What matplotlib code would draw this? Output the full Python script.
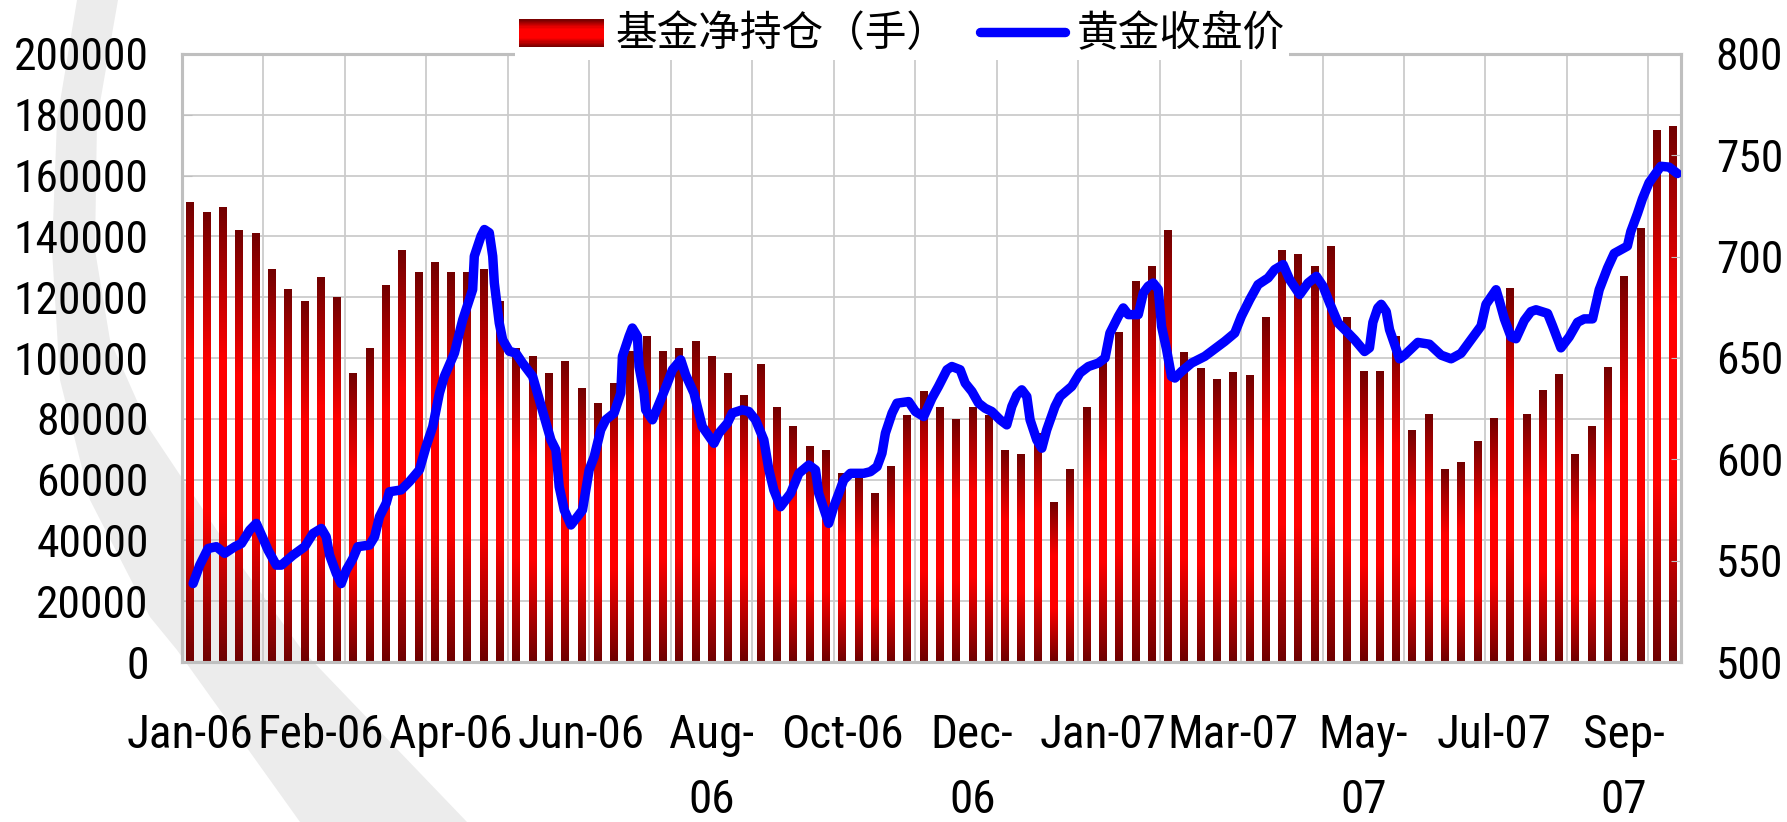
import os
import numpy as np
import matplotlib
matplotlib.use('Agg')
import matplotlib.pyplot as plt
import matplotlib.font_manager as fm
from matplotlib.font_manager import FontProperties
from matplotlib.colors import LinearSegmentedColormap
from matplotlib.patches import Polygon, Rectangle, Patch

# weekly fund net long position (contracts), Jan-06 .. Sep-07
fund_net = [151000, 148000, 149500, 142000, 141000, 129000, 122500, 118500, 126500, 120000,
            95000, 103000, 124000, 135500, 128000, 131500, 128000, 128000, 129000, 118500,
            103000, 100500, 95000, 99000, 90000, 85000, 91500, 102000, 107000, 102000,
            103000, 105500, 100500, 95000, 87500, 97800, 83600, 77400, 70800, 69500,
            62000, 62000, 55300, 64200, 81000, 88900, 83600, 79700, 83600, 81000,
            69500, 68100, 75000, 52600, 63200, 83600, 98400, 108400, 125200, 130100,
            142000, 101800, 96500, 92900, 95200, 94200, 113300, 135400, 134100, 130100,
            136700, 113300, 95500, 95500, 107000, 76200, 81300, 63400, 65700, 72400,
            80000, 122900, 81300, 89200, 94500, 68300, 77600, 96800, 126900, 142500,
            174900, 176200]
weeks = list(range(len(fund_net)))

tick_pos = [0, 8, 16, 24, 32, 40, 48, 56, 64, 72, 80, 88]
tick_labels = ['Jan-06', 'Feb-06', 'Apr-06', 'Jun-06', 'Aug-\n06', 'Oct-06',
               'Dec-\n06', 'Jan-07', 'Mar-07', 'May-\n07', 'Jul-07', 'Sep-\n07']
left_ticks = list(range(0, 200001, 20000))
right_ticks = list(range(500, 801, 50))

# gold close price, position in weeks
gold_pos = [0.18, 0.59, 1.10, 1.61, 2.12, 2.74, 3.15, 3.66, 4.06, 4.47, 4.78, 5.29, 5.60, 6.31,
            7.03, 7.54, 8.05, 8.35, 8.56, 8.97, 9.27, 9.58, 9.99, 10.29, 11.01, 11.32, 11.62,
            12.03, 12.23, 12.95, 13.46, 14.07, 14.48, 14.89, 15.30, 15.60, 16.22, 16.42, 16.73,
            17.34, 17.44, 17.85, 18.06, 18.36, 18.57, 18.67, 18.97, 19.18, 19.59, 19.99, 20.40,
            21.02, 21.43, 21.73, 22.14, 22.45, 22.65, 22.96, 23.37, 23.77, 24.08, 24.49, 24.80,
            25.20, 25.51, 26.02, 26.43, 26.53, 26.94, 27.14, 27.45, 27.55, 27.86, 27.96, 28.37,
            28.88, 29.29, 29.60, 30.11, 30.41, 30.92, 31.43, 32.15, 32.45, 32.97, 33.27, 33.88,
            34.29, 34.70, 35.21, 35.52, 35.82, 36.23, 36.85, 37.36, 37.97, 38.38, 38.58, 38.99,
            39.19, 39.50, 39.81, 40.11, 40.52, 41.34, 41.75, 42.16, 42.46, 42.67, 43.08, 43.38,
            44.10, 44.51, 45.02, 45.53, 45.93, 46.45, 46.75, 47.26, 47.57, 47.98, 48.39, 48.79,
            49.20, 49.71, 50.12, 50.43, 50.74, 51.04, 51.35, 51.55, 51.96, 52.27, 52.57, 53.08,
            53.39, 54.11, 54.61, 55.13, 55.74, 56.15, 56.45, 56.97, 57.27, 57.58, 58.19, 58.50,
            58.80, 59.11, 59.42, 59.62, 59.93, 60.23, 60.44, 60.85, 61.46, 62.27, 63.09, 63.50,
            64.11, 64.52, 65.03, 65.54, 66.16, 66.56, 67.08, 67.48, 68.10, 68.61, 69.12, 69.53,
            69.93, 70.45, 70.96, 71.47, 72.08, 72.38, 72.59, 72.89, 73.10, 73.41, 73.61, 73.92,
            74.22, 74.53, 75.35, 76.06, 76.78, 77.39, 78.00, 78.41, 79.23, 79.53, 80.15, 80.35,
            80.66, 81.07, 81.37, 81.88, 82.29, 82.60, 83.31, 83.62, 84.13, 84.64, 85.15, 85.56,
            86.07, 86.48, 86.99, 87.40, 88.21, 88.42, 88.83, 89.13, 89.54, 90.26, 90.77, 91.28]
gold_price = [538.7, 547.8, 556.0, 556.9, 553.6, 556.9, 558.5, 565.1, 568.4, 561.0, 555.2, 547.8,
              547.8, 552.7, 556.9, 563.4, 565.9, 561.8, 552.7, 543.7, 538.7, 545.3, 551.1, 556.9,
              557.7, 561.8, 571.7, 578.3, 584.0, 584.9, 589.0, 594.8, 606.3, 616.2, 632.7, 640.9,
              652.4, 659.0, 668.9, 683.8, 700.2, 710.1, 713.4, 711.8, 700.2, 687.0, 667.3, 659.0,
              653.3, 652.4, 647.5, 640.9, 629.4, 621.1, 609.6, 604.6, 586.5, 575.0, 567.6, 571.7,
              575.0, 594.8, 601.4, 614.5, 619.5, 622.8, 632.7, 650.8, 660.7, 664.8, 660.7, 645.8,
              632.7, 624.4, 619.5, 629.4, 637.6, 644.2, 649.1, 641.7, 632.7, 616.2, 607.9, 612.9,
              617.8, 622.8, 624.4, 623.6, 619.5, 609.6, 594.8, 584.9, 576.6, 583.2, 593.1, 597.2,
              594.8, 583.2, 573.3, 568.4, 576.6, 583.2, 589.8, 593.1, 593.1, 593.9, 596.4, 603.0,
              612.9, 622.8, 627.7, 628.5, 623.6, 621.1, 630.2, 636.0, 644.2, 645.8, 644.2, 637.6,
              633.5, 627.7, 625.2, 623.6, 619.5, 617.0, 626.1, 631.8, 634.3, 631.0, 619.5, 609.6,
              605.5, 614.5, 626.1, 631.0, 636.0, 642.6, 645.8, 647.5, 650.0, 662.3, 670.6, 674.7,
              671.4, 671.4, 682.1, 685.4, 687.0, 683.8, 665.6, 654.1, 640.9, 640.1, 643.4, 647.5,
              650.8, 655.7, 658.2, 662.3, 670.6, 678.8, 686.2, 689.5, 693.6, 696.1, 688.7, 681.3,
              687.0, 690.3, 685.4, 677.2, 667.3, 663.2, 659.0, 653.2, 655.0, 667.6, 674.7, 676.5,
              672.9, 664.0, 656.8, 649.6, 651.4, 657.7, 656.8, 651.4, 649.6, 652.3, 656.8, 665.8,
              676.5, 683.7, 678.3, 669.3, 660.4, 659.5, 668.5, 672.9, 673.8, 672.0, 665.8, 655.0,
              660.4, 667.6, 669.3, 669.3, 683.7, 694.4, 701.6, 705.2, 712.4, 721.3, 728.5, 736.5,
              744.6, 744.2, 741.0]


def narrow_font():
    # the reference uses an Arial Narrow look; take a condensed sans if one is installed
    prefs = ['liberation sans narrow', 'liberationsansnarrow', 'arial narrow', 'arialn',
             'roboto condensed', 'robotocondensed', 'notosans-condensed', 'noto sans condensed',
             'opensans-condensed', 'open sans condensed', 'notosans-extracondensed']
    bad = ('bold', 'italic', 'oblique', 'light', 'medium', 'black', 'thin', 'semi', 'mono')
    best, best_rank = None, len(prefs)
    for f in fm.fontManager.ttflist:
        key = (f.name + ' ' + os.path.basename(f.fname)).lower()
        if any(b in os.path.basename(f.fname).lower() for b in bad):
            continue
        for i, p in enumerate(prefs):
            if p in key and i < best_rank:
                best, best_rank = f.fname, i
    if best:
        return FontProperties(fname=best)
    return FontProperties(family='Liberation Sans')


cjk = ['Noto Sans CJK SC', 'DejaVu Sans']

W, H = 1787, 822
fig = plt.figure(figsize=(W / 100, H / 100), dpi=100)

# size the tick font so that "200000" is as wide as in the reference
fp = narrow_font()
renderer = fig.canvas.get_renderer()
probe = fig.text(0, 0, '200000', fontproperties=fp, size=30)
tick_size = 30 * 135 / probe.get_window_extent(renderer).width
probe.remove()
fp.set_size(tick_size)
fp_x = fp.copy()
fp_x.set_size(tick_size * 1.04)

# light grey swoosh of the slide background
left_edge = [(77, 0), (57, 120), (52, 250), (60, 380), (90, 500), (150, 617), (177, 650), (300, 822)]
right_edge = [(467, 822), (302, 650), (230, 550), (150, 430), (110, 340), (95, 250), (97, 120), (118, 0)]
pts = [(x / W, 1 - y / H) for x, y in left_edge + right_edge]
fig.add_artist(Polygon(pts, closed=True, transform=fig.transFigure,
                       facecolor='#ececec', edgecolor='none', zorder=-1))

ax = fig.add_axes([182 / W, 1 - 662 / H, (1681 - 182) / W, (662 - 54) / H])
ax.patch.set_facecolor('none')

bar_cmap = LinearSegmentedColormap.from_list('bar', ['#6e0000', '#ff0000', '#ff0000', '#730000'])
grad = np.linspace(0, 1, 128).reshape(-1, 1)
for x, v in zip(weeks, fund_net):
    ax.imshow(grad, cmap=bar_cmap, extent=[x - 0.225, x + 0.225, 0, v], aspect='auto',
              origin='lower', interpolation='bilinear', zorder=2)

ax.set_xlim(-0.5, len(weeks) - 0.5)
ax.set_ylim(0, 200000)
ax.set_yticks(left_ticks)
ax.set_yticklabels([str(v) for v in left_ticks], fontproperties=fp)
ax.set_xticks(tick_pos)
ax.set_xticklabels(tick_labels, fontproperties=fp_x, linespacing=1.58)
ax.set_xticks(np.arange(4.5, len(weeks) - 0.5, 5), minor=True)
ax.set_axisbelow(True)
ax.grid(axis='y', which='major', color='#cbcbcb', lw=1.3)
ax.grid(axis='x', which='minor', color='#cbcbcb', lw=1.3)
ax.tick_params(axis='x', which='both', length=0, pad=37)
ax.tick_params(axis='y', direction='in', length=7, color='#bfbfbf', pad=24)

ax2 = ax.twinx()
line, = ax2.plot(gold_pos, gold_price, color='#0000ff', lw=6.8,
                 solid_capstyle='round', solid_joinstyle='round', zorder=3)
ax2.set_ylim(500, 800)
ax2.set_yticks(right_ticks)
ax2.set_yticklabels([str(v) for v in right_ticks], fontproperties=fp)
ax2.tick_params(axis='y', direction='in', length=7, color='#bfbfbf', pad=25)

for a in (ax, ax2):
    for s in a.spines.values():
        s.set_color('#bfbfbf')
        s.set_linewidth(2.2)


class GradientHandler:
    def legend_artist(self, legend, orig_handle, fontsize, handlebox):
        x0, y0 = handlebox.xdescent, handlebox.ydescent
        w, h = handlebox.width, handlebox.height
        n = 24
        for i in range(n):
            r = Rectangle((x0, y0 + h * i / n), w, h / n * 1.05,
                          facecolor=bar_cmap((i + 0.5) / n), edgecolor='none',
                          transform=handlebox.get_transform())
            handlebox.add_artist(r)
        return r


bar_handle = Patch(facecolor='#ff0000')
leg = ax2.legend([bar_handle, line], ['基金净持仓（手）', '黄金收盘价'],
                 handler_map={Patch: GradientHandler()},
                 loc='center', bbox_to_anchor=(902 / W, 1 - 35 / H), bbox_transform=fig.transFigure,
                 ncol=2, prop={'family': cjk, 'size': 30}, frameon=True, fancybox=False,
                 borderpad=0.1, handlelength=2.05, handleheight=0.65, handletextpad=0.28,
                 columnspacing=0.75, borderaxespad=0)
leg.get_frame().set_facecolor('white')
leg.get_frame().set_edgecolor('none')
leg.get_frame().set_alpha(1)

fig.savefig('out.png', dpi=100)
